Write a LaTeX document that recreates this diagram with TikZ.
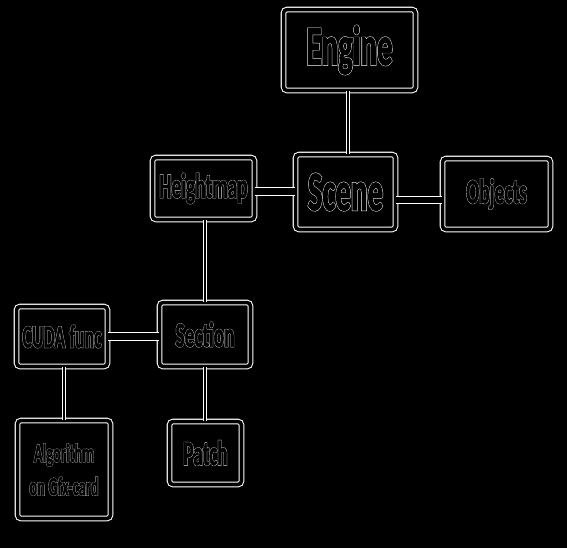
\documentclass[tikz,border=0pt]{standalone}
\usepackage{fontspec}
\setmainfont{Carlito}[FakeStretch=0.55]
\newfontfamily\fatfont{Carlito}[FakeStretch=0.55,FakeBold=3.2]
\newfontfamily\midfont{Carlito}[FakeStretch=0.55,FakeBold=1.6]
\usetikzlibrary{calc}
\newcommand{\outl}[1]{\rlap{\color{white}\fatfont #1}{\color{black}\midfont #1}}
\tikzset{
  box/.style={rectangle,rounded corners=2pt,draw=white,double=black,double distance=2pt,line width=0.6pt,align=center,text=white,font=\bfseries\fontsize{20}{20}\selectfont,inner sep=0pt},
  bigbox/.style={box,font=\bfseries\fontsize{32}{32}\selectfont},
  vlink/.style={draw=white,double=black,double distance=1.2pt,line width=0.6pt},
  hlink/.style={draw=white,double=black,double distance=3.5pt,line width=0.6pt}
}
\begin{document}
\begin{tikzpicture}[x=0.02cm,y=-0.02cm]
  \fill[black] (0,0) rectangle (567,548);
  \useasboundingbox (0,0) rectangle (567,548);
  \node[bigbox,minimum width=2.64cm,minimum height=1.62cm] (engine) at (349.5,50) {\outl{Engine}};
  \node[bigbox,minimum width=2.0cm,minimum height=1.5cm] (scene) at (345.5,192) {\outl{Scene}};
  \node[box,minimum width=2.04cm,minimum height=1.24cm] (heightmap) at (203.5,188.5) {\outl{Heightmap}};
  \node[box,minimum width=2.16cm,minimum height=1.42cm] (objects) at (496.5,194) {\outl{Objects}};
  \node[box,minimum width=1.82cm,minimum height=1.28cm] (section) at (205,334.5) {\outl{Section}};
  \node[box,minimum width=1.82cm,minimum height=1.2cm,font=\bfseries\fontsize{18.5}{18.5}\selectfont] (cuda) at (62,336.5) {\outl{CUDA func}};
  \node[box,minimum width=1.86cm,minimum height=1.96cm,font=\bfseries\fontsize{15}{19}\selectfont] (algo) at (64,469.5) {\outl{Algorithm}\\\outl{on Gfx-card}};
  \node[box,minimum width=1.44cm,minimum height=1.26cm] (patch) at (205.5,453) {\outl{Patch}};

  \draw[vlink] (engine.south -| 348,0) -- (scene.north -| 348,0);
  \draw[hlink] ([yshift=-0.06cm]heightmap.east) -- ([yshift=-0.06cm]heightmap.east -| scene.west);
  \draw[hlink] ([yshift=-0.16cm]scene.east) -- ([yshift=-0.16cm]scene.east -| objects.west);
  \draw[vlink] (section.north |- heightmap.south) -- (section.north);
  \draw[hlink] (cuda.east) -- (cuda.east -| section.west);
  \draw[vlink] (algo.north |- cuda.south) -- (algo.north);
  \draw[vlink] (section.south) -- (section.south |- patch.north);
\end{tikzpicture}
\end{document}
